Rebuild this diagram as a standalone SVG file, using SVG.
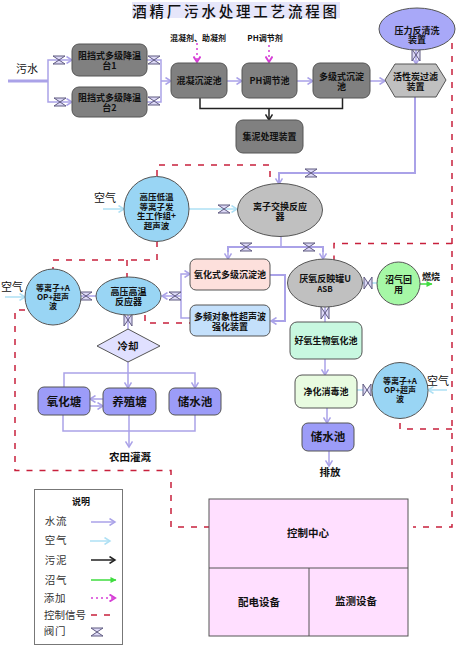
<svg xmlns="http://www.w3.org/2000/svg" width="458" height="650" viewBox="0 0 458 650">
<defs>
<style>
text{font-family:"Noto Sans CJK SC","Liberation Sans",sans-serif;text-anchor:middle;fill:#111}
.n{font-size:9px;font-weight:700}
.t{font-size:8.500px;font-weight:700}
.l{font-size:11px;font-weight:400}
.b{font-size:11.500px;font-weight:700}
.s{font-size:8px;font-weight:700}
.q{font-size:10.500px;font-weight:700}
.k{font-size:10.500px;fill:#333;letter-spacing:.8px}
.box{stroke:#555;stroke-width:1}
.g{fill:#808080}
.lg{fill:#c0c0c0}
.sky{fill:#99d5f4}
.blue{fill:#9c9cf8}
.w,.a,.m,.h,.y,.c{fill:none}
.w{stroke:#aaa2e8;stroke-width:1.500}
.a{stroke:#aee0f4;stroke-width:1.500}
.m{stroke:#222;stroke-width:1.500}
.h{stroke:#3fdc3f;stroke-width:1.500}
.y{stroke:#d63fd6;stroke-width:1.500;stroke-dasharray:2 3}
.c{stroke:#c8203c;stroke-width:1.500;stroke-dasharray:6 7}
</style>
<marker id="mw" markerWidth="8" markerHeight="8" refX="6.500" refY="4" orient="auto" markerUnits="userSpaceOnUse"><path d="M1 .5 6.500 4 1 7.500" fill="none" stroke="#aaa2e8" stroke-width="1.500"/></marker>
<marker id="ma" markerWidth="8" markerHeight="8" refX="6.500" refY="4" orient="auto" markerUnits="userSpaceOnUse"><path d="M1 .5 6.500 4 1 7.500" fill="none" stroke="#aee0f4" stroke-width="1.500"/></marker>
<marker id="mm" markerWidth="8" markerHeight="8" refX="6.500" refY="4" orient="auto" markerUnits="userSpaceOnUse"><path d="M1 .5 6.500 4 1 7.500" fill="none" stroke="#222" stroke-width="1.500"/></marker>
<marker id="mh" markerWidth="8" markerHeight="8" refX="6.500" refY="4" orient="auto" markerUnits="userSpaceOnUse"><path d="M1 1 7 4 1 7Z" fill="#3fdc3f"/></marker>
<marker id="my" markerWidth="8" markerHeight="8" refX="6.500" refY="4" orient="auto" markerUnits="userSpaceOnUse"><path d="M1 .5 6.500 4 1 7.500" fill="none" stroke="#d63fd6" stroke-width="2"/></marker>
<symbol id="vh" overflow="visible"><path d="M-6-4H6L-6 4H6Z" fill="#dcd8f6" stroke="#5f5a80"/></symbol>
<symbol id="vv" overflow="visible"><path d="M-4-6V6L4-6V6Z" fill="#dcd8f6" stroke="#5f5a80"/></symbol>
</defs>
<rect width="458" height="650" fill="#fff"/>
<g id="title"><rect x="132" y="2" width="208" height="16" fill="#e6e6fa"/><text x="236" y="17" font-size="14.500" letter-spacing="2.800" font-weight="500">酒精厂污水处理工艺流程图</text></g>

<g id="connectors">
<path class="w" style="stroke-width:3" d="M8 81H48"/>
<path class="w" d="M48 81V60H72" marker-end="url(#mw)"/>
<path class="w" d="M48 81V102H72" marker-end="url(#mw)"/>
<path class="w" d="M147 60H161V102H147"/>
<path class="w" d="M161 81H171" marker-end="url(#mw)"/>
<path class="w" d="M227 81H242" marker-end="url(#mw)"/>
<path class="w" d="M297 81H313" marker-end="url(#mw)"/>
<path class="w" d="M370 81H385" marker-end="url(#mw)"/>
<path class="w" d="M416 50V64" marker-end="url(#mw)"/>
<path class="w" style="stroke-width:2" d="M415 97V173H279V184" marker-end="url(#mw)"/>
<path class="m" d="M200 98V108.500H342.500V98"/>
<path class="m" d="M269 108.500V120" marker-end="url(#mm)"/>
<path class="y" d="M197 43V62" marker-end="url(#my)"/>
<path class="y" d="M269 45V62" marker-end="url(#my)"/>
<path class="a" d="M103 209H124" marker-end="url(#ma)"/>
<path class="a" d="M189 209H237" marker-end="url(#ma)"/>
<path class="w" d="M281 237V247"/>
<path class="w" style="stroke-width:2" d="M228 252V247H323V252"/>
<path class="w" d="M228 252V259" marker-end="url(#mw)"/>
<path class="w" d="M323 252V259" marker-end="url(#mw)"/>
<path class="w" style="stroke-width:2" d="M270 275H285V321H271" marker-end="url(#mw)"/>
<path class="w" d="M190 318H181V274H190" marker-end="url(#mw)"/>
<path class="w" d="M181 296H162" marker-end="url(#mw)"/>
<path class="w" d="M128 315V330"/>
<path class="w" d="M81 296H96"/>
<path class="a" d="M5 297H25" marker-end="url(#ma)"/>
<path class="w" d="M128 362V388" marker-end="url(#mw)"/>
<path class="w" d="M64 387V373H195V388" marker-end="url(#mw)"/>
<path class="w" d="M103 399H90" marker-end="url(#mw)"/>
<path class="w" d="M90 406H103" marker-end="url(#mw)"/>
<path class="w" d="M63 415V431H195V415"/>
<path class="w" d="M129 415V447" marker-end="url(#mw)"/>
<path class="a" d="M362 283H377"/>
<path class="h" d="M420 284H432" marker-end="url(#mh)"/>
<path class="w" d="M325 307V322"/>
<path class="w" d="M325 359V375" marker-end="url(#mw)"/>
<path class="w" d="M327 408V423" marker-end="url(#mw)"/>
<path class="w" d="M329 451V466" marker-end="url(#mw)"/>
<path class="a" d="M372 390H357"/>
<path class="a" d="M447 390H428" marker-end="url(#ma)"/>
<path class="c" d="M157 176V165H270V179"/>
<path class="c" d="M157 241V260H53V269"/>
<path class="c" d="M127 260V277"/>
<path class="c" d="M145 315V323H190"/>
<path class="c" d="M25 310H15V470.500H171V527H209"/>
<path class="c" d="M452 30V527H413"/>
<path class="c" d="M452 243.500H334V260"/>
<path class="c" d="M452 429H400V419"/>
</g>
<g id="valves">
<use href="#vh" x="59" y="60"/><use href="#vh" x="60" y="102"/>
<use href="#vh" x="154" y="60"/><use href="#vh" x="154" y="101"/>
<use href="#vv" x="416" y="55"/><use href="#vh" x="311" y="173"/>
<use href="#vh" x="224" y="209"/><use href="#vh" x="246" y="247"/><use href="#vh" x="309" y="247"/>
<use href="#vh" x="175" y="296"/><use href="#vh" x="86" y="296"/><use href="#vv" x="128" y="320"/>
<use href="#vv" x="368" y="283"/><use href="#vv" x="325" y="313"/><use href="#vv" x="367" y="390"/>
</g>

<g id="n1"><rect class="box g" x="72" y="44" width="75" height="32" rx="7"/><text class="n" x="109.500" y="59">阻挡式多级降温<tspan x="109.500" dy="10">台1</tspan></text></g>
<g id="n2"><rect class="box g" x="72" y="87" width="75" height="30" rx="7"/><text class="n" x="109.500" y="101">阻挡式多级降温<tspan x="109.500" dy="10">台2</tspan></text></g>
<g id="n3"><rect class="box g" x="171" y="63" width="56" height="35" rx="7"/><text class="n" x="199" y="84">混凝沉淀池</text></g>
<g id="n4"><rect class="box g" x="242" y="63" width="55" height="35" rx="7"/><text class="n" x="269.500" y="84">PH调节池</text></g>
<g id="n5"><rect class="box g" x="313" y="63" width="57" height="35" rx="7"/><text class="n" x="341.500" y="80">多级式沉淀<tspan x="341.500" dy="10">池</tspan></text></g>
<g id="n6"><path class="box lg" d="M385 80 395 64H436L446 80 436 97H395Z"/><text class="n" x="415.500" y="80">活性炭过滤<tspan x="415.500" dy="10">装置</tspan></text></g>
<g id="n7"><ellipse class="box" fill="#a8a8f8" cx="417" cy="29" rx="38" ry="21"/><text class="n" x="417" y="34">压力反清洗<tspan x="417" dy="9">装置</tspan></text></g>
<g id="n8"><rect class="box g" x="236" y="120" width="67" height="33" rx="7"/><text class="n" x="269.500" y="140">集泥处理装置</text></g>
<g id="n9"><circle class="box sky" cx="156.500" cy="209" r="32.500"/><text class="t" x="156.500" y="200">高压低温<tspan x="156.500" dy="9.500">等离子发</tspan><tspan x="156.500" dy="9.500">生工作组+</tspan><tspan x="156.500" dy="9.500">超声波</tspan></text></g>
<g id="n10"><ellipse class="box lg" cx="280" cy="210" rx="42.500" ry="26.500"/><text class="n" x="280" y="210">离子交换反应<tspan x="280" dy="10">器</tspan></text></g>
<g id="n11"><rect class="box" fill="#fde0dc" x="190" y="259" width="80" height="31" rx="6"/><text class="n" x="230" y="278">氧化式多级沉淀池</text></g>
<g id="n12"><rect class="box" fill="#c4e0fb" x="190" y="305" width="80" height="31" rx="6"/><text class="n" x="230" y="320">多频对象性超声波<tspan x="230" dy="10">强化装置</tspan></text></g>
<g id="n13"><ellipse class="box lg" cx="325" cy="283" rx="37.500" ry="24"/><text class="n" x="325" y="282">厌氧反映罐U<tspan x="325" dy="10" class="s">ASB</tspan></text></g>
<g id="n14"><circle class="box" fill="#a6f8a6" cx="398.500" cy="283.500" r="21.500"/><text class="n" x="398.500" y="283">沼气回<tspan x="398.500" dy="10">用</tspan></text></g>
<g id="n15"><circle class="box sky" cx="53" cy="297" r="28"/><text class="s" x="53" y="291">等离子+A<tspan x="53" dy="9">OP+超声</tspan><tspan x="53" dy="9">波</tspan></text></g>
<g id="n16"><ellipse class="box sky" cx="128.500" cy="296" rx="32.500" ry="19"/><text class="n" x="128.500" y="295">高压高温<tspan x="128.500" dy="10">反应器</tspan></text></g>
<g id="n17"><path class="box" fill="#e0e0ff" d="M128 329 160 346 128 362 97 346Z"/><text class="q" x="128" y="350">冷却</text></g>
<g id="n18"><rect class="box blue" x="38" y="387" width="52" height="28" rx="6"/><text class="b" x="64" y="406">氧化塘</text></g>
<g id="n19"><rect class="box blue" x="103" y="388" width="53" height="27" rx="6"/><text class="b" x="129.500" y="406">养殖塘</text></g>
<g id="n20"><rect class="box blue" x="169" y="388" width="52" height="27" rx="6"/><text class="b" x="195" y="406">储水池</text></g>
<g id="n21"><rect class="box" fill="#c8f8e0" x="290" y="322" width="72" height="37" rx="7"/><text class="n" x="326" y="344">好氧生物氧化池</text></g>
<g id="n22"><rect class="box" fill="#e8fbe0" x="295" y="375" width="62" height="33" rx="7"/><text class="n" x="326" y="395">净化消毒池</text></g>
<g id="n23"><rect class="box blue" x="302" y="423" width="52" height="28" rx="6"/><text class="b" x="328" y="441">储水池</text></g>
<g id="n24"><circle class="box sky" cx="400" cy="390.500" r="28"/><text class="s" x="400" y="384">等离子+A<tspan x="400" dy="9">OP+超声</tspan><tspan x="400" dy="9">波</tspan></text></g>
<g id="control"><rect class="box" fill="#ffdfff" x="209" y="499" width="199" height="137"/><path d="M209 568H408M309 568V636" stroke="#555" fill="none"/><text class="q" x="308" y="537">控制中心</text><text class="q" x="259" y="606">配电设备</text><text class="q" x="356" y="605">监测设备</text></g>

<g id="labels">
<text class="l" x="27" y="73">污水</text>
<text class="s" x="198" y="41">混凝剂、助凝剂</text>
<text class="s" x="265" y="41">PH调节剂</text>
<text class="l" x="105" y="202">空气</text>
<text class="l" x="12" y="291">空气</text>
<text class="n" x="431" y="280">燃烧</text>
<text class="q" x="130" y="461">农田灌溉</text>
<text class="q" x="330" y="476">排放</text>
<text class="l" x="438" y="385">空气</text>
</g>

<g id="legend">
<rect x="34.500" y="489.500" width="88" height="155" fill="#fff" stroke="#777" stroke-width="1"/>
<text class="n" x="81" y="505">说明</text>
<text class="k" x="56" y="525">水流</text><text class="k" x="56" y="544">空气</text><text class="k" x="56" y="564">污泥</text><text class="k" x="56" y="584">沼气</text><text class="k" x="55" y="602">添加</text><text class="k" x="65" y="619" style="letter-spacing:0">控制信号</text><text class="k" x="55" y="635">阀门</text>
<path class="w" d="M91 522H115" marker-end="url(#mw)"/>
<path class="a" d="M90 541H110" marker-end="url(#ma)"/>
<path class="m" d="M91 560H115" marker-end="url(#mm)"/>
<path class="h" d="M91 580H116" marker-end="url(#mh)"/>
<path class="y" d="M91 598H115" marker-end="url(#my)"/>
<path class="c" d="M91 615H113"/>
<use href="#vh" x="97" y="632"/>
</g>
</svg>
